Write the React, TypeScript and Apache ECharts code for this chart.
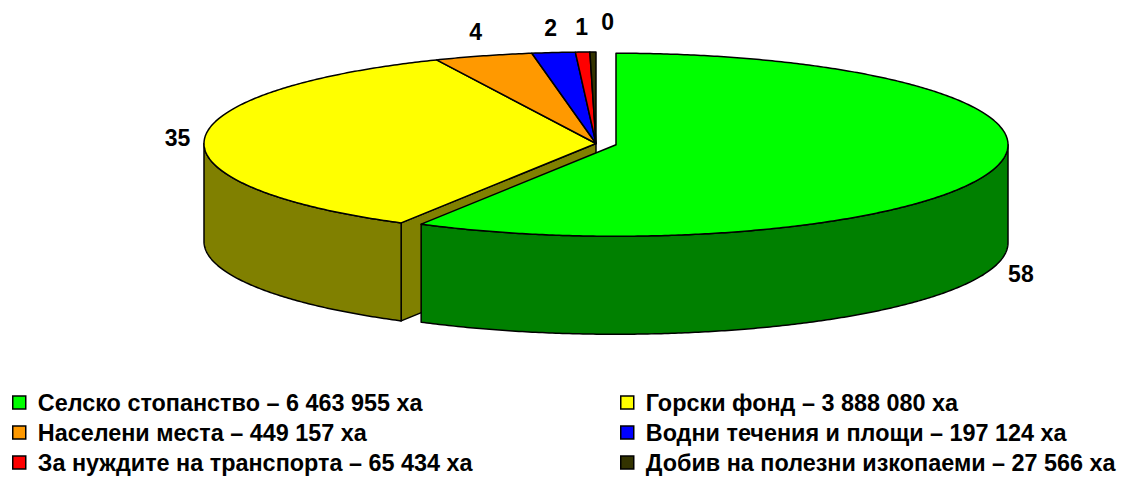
import React, { useEffect, useRef } from "react";
import * as echarts from "echarts";

const categories = [
  "Селско стопанство",
  "Горски фонд",
  "Населени места",
  "Водни течения и площи",
  "За нуждите на транспорта",
  "Добив на полезни изкопаеми",
];
const values = [6463955, 3888080, 449157, 197124, 65434, 27566];
const topColors = ["#00FF00", "#FFFF00", "#FF9900", "#0000FF", "#FF0000", "#333300"];
const sideColors = ["#008000", "#808000", "#995C00", "#000080", "#800000", "#1A1A00"];
const exploded = [1, 0, 0, 0, 0, 0];
const unit = "ха";

const FONT = "'Liberation Sans', Arial, sans-serif";

function fmt(n: number): string {
  return String(n).replace(/\B(?=(\d{3})+(?!\d))/g, " ");
}
const legendNames = categories.map((c, i) => `${c} – ${fmt(values[i])} ${unit}`);

// geometry (layout)
const CX = 596;
const CY = 143.5;
const RX = 392;
const RY = 91.5;
const DEPTH = 98;
const EXPLODE = 20.7;

const total = values.reduce((a, b) => a + b, 0);
const starts: number[] = [];
const ends: number[] = [];
{
  let acc = 0;
  values.forEach((v) => {
    starts.push((acc / total) * 360);
    acc += v;
    ends.push((acc / total) * 360);
  });
}
const N = values.length;
const rad = (d: number) => (d * Math.PI) / 180;

function center(i: number) {
  const mid = rad((starts[i] + ends[i]) / 2);
  const e = exploded[i] ? EXPLODE : 0;
  return { x: CX + e * Math.sin(mid), y: CY - e * Math.cos(mid) * (RY / RX) };
}
function pt(c: { x: number; y: number }, deg: number, yoff = 0): number[] {
  const t = rad(deg);
  return [c.x + RX * Math.sin(t), c.y - RY * Math.cos(t) + yoff];
}
function arc(c: { x: number; y: number }, a0: number, a1: number, yoff = 0): number[][] {
  const n = Math.max(2, Math.ceil(Math.abs(a1 - a0) / 0.5));
  const pts: number[][] = [];
  for (let k = 0; k <= n; k++) pts.push(pt(c, a0 + ((a1 - a0) * k) / n, yoff));
  return pts;
}

// label positions
const labelPos: { x: number; y: number }[] = values.map((_, i) => {
  const c = center(i);
  const mid = rad((starts[i] + ends[i]) / 2);
  const x = c.x + (RX + 27) * Math.sin(mid);
  let y = c.y - (RY + 25) * Math.cos(mid);
  if (Math.cos(mid) < 0) y += DEPTH + 1;
  return { x, y };
});
for (let i = 1; i < labelPos.length; i++) {
  const p = labelPos[i - 1];
  const q = labelPos[i];
  if (Math.abs(q.y - p.y) < 20 && Math.abs(q.x - p.x) < 26) {
    q.x = p.x + 26;
    q.y = q.y - 5;
  }
}

const stroke = { stroke: "#000", lineWidth: 1.5, lineJoin: "round" as const };

function makeRender(i: number) {
  return function renderItem() {
    const c = center(i);
    const a0 = starts[i];
    const a1 = ends[i];
    const children: any[] = [];
    const prevExp = exploded[(i - 1 + N) % N] || exploded[i];
    const nextExp = exploded[(i + 1) % N] || exploded[i];
    // radial faces (only exposed where a slice is pulled out)
    if (prevExp && Math.sin(rad(a0)) < -1e-6) {
      const p = pt(c, a0);
      children.push({
        type: "polygon",
        z2: 1,
        shape: { points: [[c.x, c.y], p, [p[0], p[1] + DEPTH], [c.x, c.y + DEPTH]] },
        style: { fill: sideColors[i], ...stroke },
      });
    }
    if (nextExp && Math.sin(rad(a1)) > 1e-6) {
      const p = pt(c, a1);
      children.push({
        type: "polygon",
        z2: 1,
        shape: { points: [[c.x, c.y], p, [p[0], p[1] + DEPTH], [c.x, c.y + DEPTH]] },
        style: { fill: sideColors[i], ...stroke },
      });
    }
    // outer wall (front half only)
    const w0 = Math.max(a0, 90);
    const w1 = Math.min(a1, 270);
    if (w1 > w0) {
      const top = arc(c, w0, w1);
      const bot = arc(c, w1, w0, DEPTH);
      children.push({
        type: "polygon",
        z2: 2,
        shape: { points: top.concat(bot) },
        style: { fill: sideColors[i], ...stroke },
      });
    }
    // top face
    children.push({
      type: "polygon",
      z2: 3,
      shape: { points: [[c.x, c.y]].concat(arc(c, a0, a1)) },
      style: { fill: topColors[i], ...stroke },
    });
    // label
    children.push({
      type: "text",
      z2: 10,
      style: {
        text: String(Math.round((values[i] / total) * 100)),
        x: labelPos[i].x,
        y: labelPos[i].y,
        align: "center",
        verticalAlign: "middle",
        font: `bold 23px ${FONT}`,
        fill: "#000",
      },
    });
    return { type: "group", children };
  };
}

export default function App() {
  const ref = useRef<HTMLDivElement>(null);
  useEffect(() => {
    if (!ref.current) return;
    const chart = echarts.init(ref.current, null, { renderer: "svg" });
    const legendBase = {
      orient: "vertical" as const,
      icon: "rect",
      itemWidth: 13,
      itemHeight: 13,
      itemGap: 7,
      padding: 0,
      height: 100,
      selectedMode: false,
      itemStyle: { borderColor: "#000", borderWidth: 1.5 },
      textStyle: {
        fontSize: 23.4,
        fontWeight: "bold" as const,
        fontFamily: FONT,
        color: "#000",
        padding: [0, 0, 0, 7],
        lineHeight: 20,
      },
    };
    chart.setOption({
      animation: false,
      backgroundColor: "#fff",
      legend: [
        { ...legendBase, left: 12, top: 391, data: [legendNames[0], legendNames[2], legendNames[4]] },
        { ...legendBase, left: 620, top: 391, data: [legendNames[1], legendNames[3], legendNames[5]] },
      ],
      series: values.map((v, i) => ({
        type: "custom",
        name: legendNames[i],
        coordinateSystem: "none",
        itemStyle: { color: topColors[i] },
        renderItem: makeRender(i),
        data: [[v]],
        silent: true,
      })),
    });
    return () => chart.dispose();
  }, []);
  return (
    <div
      ref={ref}
      style={{ position: "fixed", left: 0, top: 0, width: 1127, height: 478, background: "#fff" }}
    />
  );
}
